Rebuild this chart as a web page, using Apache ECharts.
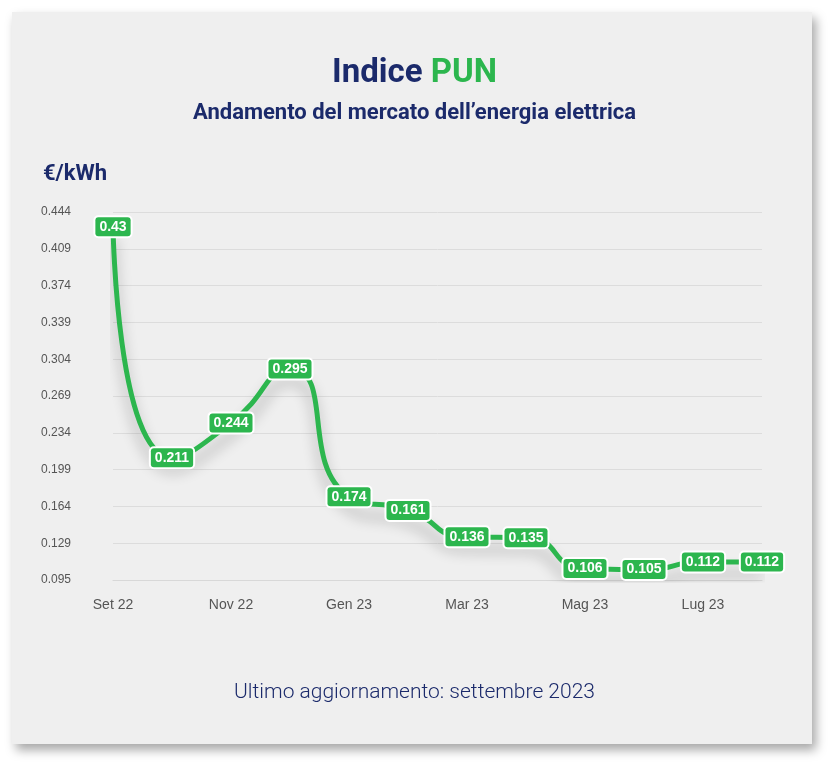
<!DOCTYPE html>
<html><head><meta charset="utf-8">
<script src="https://cdn.jsdelivr.net/npm/echarts@6/dist/echarts.min.js"></script>
<style>
html,body{margin:0;padding:0;background:#fff;}
#card{position:absolute;left:12px;top:12px;width:800px;height:732px;background:#efefef;box-shadow:4px 6px 10px rgba(0,0,0,0.35);}
#chart{position:absolute;left:0;top:0;width:829px;height:770px;}
</style></head>
<body><div id="card"></div><div id="chart"></div>
<script>
const months = ['Set 22','Ott 22','Nov 22','Dic 22','Gen 23','Feb 23','Mar 23','Apr 23','Mag 23','Giu 23','Lug 23','Ago 23'];
const pun = [0.43,0.211,0.244,0.295,0.174,0.161,0.136,0.135,0.106,0.105,0.112,0.112];
const yTicks = ['0.095','0.129','0.164','0.199','0.234','0.269','0.304','0.339','0.374','0.409','0.444'];
const NAVY = '#1b2a6b', GREEN = '#2cb64e';

const chart = echarts.init(document.getElementById('chart'));
chart.setOption({
    animation:false,
    title:[
        {text:'{a|Indice }{b|PUN}',left:'center',top:52,textStyle:{rich:{
            a:{fontSize:33,fontWeight:'bold',color:NAVY,fontFamily:'Roboto'},
            b:{fontSize:33,fontWeight:'bold',color:GREEN,fontFamily:'Roboto'}}}},
        {text:'Andamento del mercato dell\u2019energia elettrica',left:'center',top:97,textStyle:{fontSize:22,fontWeight:'bold',color:NAVY,fontFamily:'Roboto'}},
        {text:'\u20ac/kWh',left:38,top:158,textStyle:{fontSize:22,fontWeight:'bold',color:NAVY,fontFamily:'Roboto'}},
        {text:'Ultimo aggiornamento: settembre 2023',left:'center',top:677,textStyle:{fontSize:21,fontWeight:300,color:NAVY,fontFamily:'Roboto'}}
    ],
    grid:{left:113,right:67,top:212,bottom:190},
    xAxis:{type:'category',data:months,boundaryGap:false,
        axisLine:{lineStyle:{color:'#d8d8d8'}},axisTick:{show:false},
        axisLabel:{color:'#555',fontSize:14,margin:18,fontFamily:'Liberation Sans'}},
    yAxis:{type:'value',min:0.095,max:0.444,interval:0.0349,
        axisLine:{show:false},axisTick:{show:false},
        splitLine:{lineStyle:{color:'#dcdcdc'}},
        axisLabel:{color:'#555',fontSize:12,margin:72,align:'left',fontFamily:'Liberation Sans',
            formatter:v=>{ const i=Math.round((v-0.095)/0.0349); return yTicks[i]||''; }}},
    series:[{type:'line',data:pun,smooth:0.6,symbol:'circle',symbolSize:2,showAllSymbol:true,
        itemStyle:{color:GREEN},
        lineStyle:{color:GREEN,width:5,shadowColor:'rgba(0,0,0,0.3)',shadowBlur:14,shadowOffsetY:12},
        label:{show:true,position:'inside',formatter:p=>String(p.value),color:'#fff',fontWeight:'bold',fontSize:14,
            fontFamily:'Liberation Sans',backgroundColor:GREEN,borderColor:'#fff',borderWidth:2,borderRadius:3,padding:[3,4,2,4]}
    }]
});
</script></body></html>
